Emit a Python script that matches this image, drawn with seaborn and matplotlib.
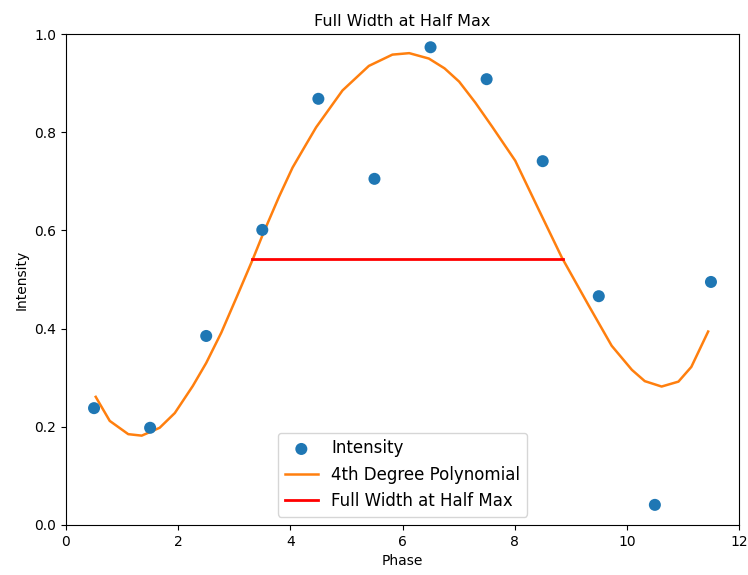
import matplotlib
matplotlib.use("Agg")
import matplotlib.pyplot as plt
import seaborn as sns

# Data points
phase = [0.5, 1.5, 2.5, 3.5, 4.5, 5.5, 6.5, 7.5, 8.5, 9.5, 10.5, 11.5]
intensity = [0.238, 0.198, 0.385, 0.601, 0.868, 0.705, 0.973, 0.908, 0.741, 0.466, 0.041, 0.495]

# Polynomial curve
fit_x = [0.53, 0.78, 1.11, 1.35, 1.67, 1.94, 2.26, 2.50, 2.77, 3.05, 3.33, 3.51, 3.80,
         4.04, 4.28, 4.46, 4.93, 5.40, 5.82, 6.12, 6.47, 6.75, 7.01, 7.30, 7.60, 8.01,
         8.43, 8.84, 9.32, 9.73, 10.09, 10.32, 10.62, 10.92, 11.15, 11.45]
fit_y = [0.261, 0.212, 0.185, 0.182, 0.198, 0.228, 0.283, 0.330, 0.392, 0.466, 0.541, 0.592, 0.669,
         0.728, 0.775, 0.810, 0.885, 0.935, 0.958, 0.961, 0.950, 0.930, 0.903, 0.860, 0.811, 0.742,
         0.642, 0.545, 0.447, 0.365, 0.316, 0.293, 0.282, 0.292, 0.322, 0.394]

# Full width at half max segment
fwhm_x = [3.32, 8.87]
fwhm_y = [0.541, 0.541]

fig = plt.figure(figsize=(7.48, 5.75), dpi=100)
ax = fig.add_axes([66/748, 1-525/575, (739-66)/748, (525-34)/575])

sns.scatterplot(x=phase, y=intensity, ax=ax, color="#1f77b4", s=75, edgecolor="none",
                label="Intensity", zorder=3)
sns.lineplot(x=fit_x, y=fit_y, ax=ax, color="#ff7f0e", linewidth=1.8, sort=False,
             estimator=None, label="4th Degree Polynomial")
sns.lineplot(x=fwhm_x, y=fwhm_y, ax=ax, color="red", linewidth=2.0, sort=False,
             estimator=None, label="Full Width at Half Max")

ax.set_xlim(0, 12)
ax.set_ylim(0, 1.0)
ax.set_xticks([0, 2, 4, 6, 8, 10, 12])
ax.set_yticks([0.0, 0.2, 0.4, 0.6, 0.8, 1.0])
ax.tick_params(labelsize=10)
ax.set_xlabel("Phase", fontsize=10)
ax.set_ylabel("Intensity", fontsize=10)
ax.set_title("Full Width at Half Max", fontsize=11.5)
ax.legend(loc="lower center", fontsize=12)

fig.savefig("out.png", dpi=100)
